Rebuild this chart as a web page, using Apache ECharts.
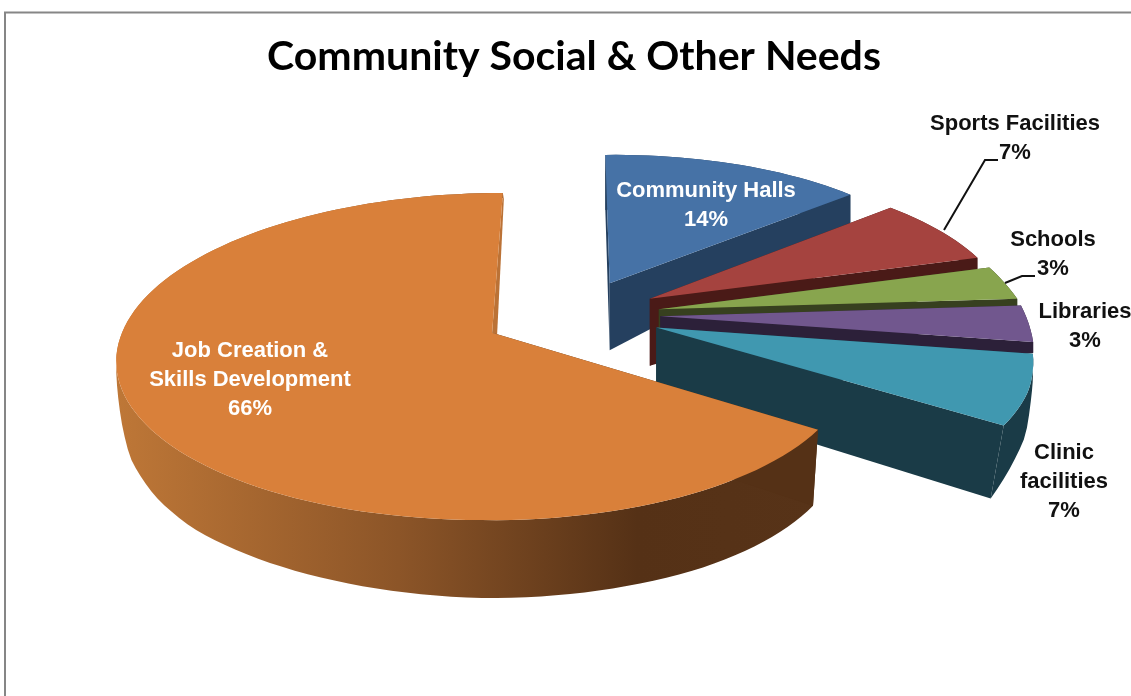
<!DOCTYPE html>
<html>
<head>
<meta charset="utf-8">
<style>html,body{margin:0;padding:0;background:#fff;overflow:hidden}#chart{width:1131px;height:696px}</style>
<script src="https://cdn.jsdelivr.net/npm/echarts@6/dist/echarts.min.js"></script>
</head>
<body>
<div id="chart"></div>
<script>
// Share of community social needs, in percent, clockwise from twelve o'clock.
const categories = ['Community Halls', 'Sports Facilities', 'Schools', 'Libraries', 'Clinic\nfacilities', 'Job Creation &\nSkills Development'];
const shares = [14, 7, 3, 3, 7, 66];

const topColors = ['#4672A6', '#A5433F', '#88A54E', '#71578E', '#4098B0', '#D9803A'];
const wallColors = ['#25405F', '#4A1A17', '#37401F', '#2C2039', '#1A3B47', '#BB7236'];
const labelColors = ['#fff', '#111', '#111', '#111', '#111', '#fff'];

// Centre of each label block on the page.
const labelX = [706, 1015, 1053, 1085, 1064, 250];
const labelY = [205, 138, 254, 326, 482, 380];

// Leader lines for the two labels that sit away from their slices.
const leaderLines = [
  [[944, 230], [985, 160], [998, 160]],
  [[1005, 283], [1022, 276], [1035, 276]]
];

// Projection of the tilted disc onto the page.
const CX = 574, CY = 315, RX = 369, RY = 155, PERSPECTIVE = 0.143, EXPLODE = 0.234;
const APEX_DEPTH = 67;
const MAIN = 5; // the large slice has its own rim corrections

// Rim corrections by clockwise angle in degrees: wall depth and lens offsets, in pixels.
const smallRim = {
  angles: [0, 50.4, 75.6, 86.4, 97.2, 104, 110, 122.4],
  depth: [55, 30, 13, 9, 11, 22, 45, 73],
  dx: [0, -10, -10, -4, -2, -2, -1, -1],
  dy: [0, -3, -5, -1, 6, 6, 6, 6],
  bottomDx: [0, 0, 0, 0, 0, -1, -3, -13]
};
const mainRim = {
  angles: [122.4, 150, 180, 195, 210, 225, 235, 245, 250, 254, 258, 270, 360],
  depth: [76, 77, 78, 75, 72, 69, 63, 52, 35, 20, 8, 5, 5],
  dx: [-16, -7, 0, 0, 0, 0, 0, 0, 0, 0, 0, 0, -4],
  dy: [4, 2, 0, 0, 0, 0, 0, 0, 0, 0, 0, 0, 0],
  bottomDx: [-5, 0, 0, 0, 0, 0, 0, 0, 0, 0, 0, 0, 0]
};

function lookup(xs, ys, v) {
  for (let i = 1; i < xs.length; i++) {
    if (v <= xs[i]) {
      const f = (v - xs[i - 1]) / (xs[i] - xs[i - 1]);
      return ys[i - 1] + f * (ys[i] - ys[i - 1]);
    }
  }
  return ys[ys.length - 1];
}

const total = shares.reduce((a, b) => a + b, 0);
const spans = [];
shares.reduce((acc, v) => { spans.push([acc, acc + v / total * 360]); return acc + v / total * 360; }, 0);

function project(X, Y) {
  const s = 1 / (1 - PERSPECTIVE * Y);
  return [CX + RX * X * s, CY + RY * Y * s];
}

function sliceGeometry(index) {
  const [a0, a1] = spans[index];
  const rim = index === MAIN ? mainRim : smallRim;
  const mid = (a0 + a1) / 2 * Math.PI / 180;
  const ax = EXPLODE * Math.sin(mid), ay = -EXPLODE * Math.cos(mid);
  const apex = project(ax, ay);
  if (index === MAIN) apex[0] -= 5;
  const rimTop = [], rimBottom = [];
  const steps = Math.max(6, Math.round((a1 - a0) / 2));
  for (let k = 0; k <= steps; k++) {
    const deg = a0 + (a1 - a0) * k / steps;
    const t = deg * Math.PI / 180;
    const p = project(ax + Math.sin(t), ay - Math.cos(t));
    p[0] += lookup(rim.angles, rim.dx, deg);
    p[1] += lookup(rim.angles, rim.dy, deg);
    rimTop.push(p);
    rimBottom.push([p[0] + lookup(rim.angles, rim.bottomDx, deg), p[1] + lookup(rim.angles, rim.depth, deg)]);
  }
  return { apex, apexBottom: [apex[0], apex[1] + APEX_DEPTH], rimTop, rimBottom };
}

function poly(points, fill) {
  return { type: 'polygon', shape: { points }, style: { fill, stroke: null } };
}

function renderSlice(params) {
  const i = params.dataIndex;
  const g = sliceGeometry(i);
  const last = g.rimTop.length - 1;
  const isMain = i === MAIN;
  const wall = isMain
    ? new echarts.graphic.LinearGradient(117, 0, 820, 0, [
        { offset: 0, color: '#BE7737' },
        { offset: 0.4, color: '#8C5528' },
        { offset: 0.74, color: '#553116' },
        { offset: 1, color: '#573318' }
      ], true)
    : wallColors[i];
  // The cut face at the start of the large slice shows only as a thin sliver.
  const startFace = isMain
    ? [g.apex, g.rimTop[last], [g.rimTop[last][0] + 1, g.rimTop[last][1] + 6], [g.apex[0] + 5, g.apex[1] + 2]]
    : [g.apex, g.rimTop[0], g.rimBottom[0], g.apexBottom];
  return {
    type: 'group',
    children: [
      poly(startFace, wallColors[i]),
      poly(g.rimTop.concat(g.rimBottom.slice().reverse()), wall),
      poly(isMain
        ? [g.apex, g.rimTop[0], g.rimBottom[0], g.apexBottom]
        : [g.apex, g.rimTop[last], g.rimBottom[last], g.apexBottom], isMain ? '#553116' : wallColors[i]),
      poly([g.apex].concat(g.rimTop), topColors[i])
    ]
  };
}

function renderLabel(params) {
  const i = params.dataIndex;
  return {
    type: 'text',
    z2: 10,
    style: {
      x: labelX[i], y: labelY[i],
      text: categories[i] + '\n' + shares[i] + '%',
      fill: labelColors[i],
      font: 'bold 22px "Liberation Sans", Arial, sans-serif',
      lineHeight: 29,
      align: 'center',
      verticalAlign: 'middle'
    }
  };
}

const chart = echarts.init(document.getElementById('chart'));
chart.setOption({
  animation: false,
  backgroundColor: '#fff',
  title: {
    text: 'Community Social & Other Needs',
    left: 569, top: 31, textAlign: 'center',
    textStyle: { fontFamily: 'Lato', fontWeight: 'bold', fontSize: 41, color: '#000' }
  },
  graphic: [
    { type: 'rect', shape: { x: 5, y: 12.5, width: 1200, height: 800 }, style: { fill: 'none', stroke: '#868686', lineWidth: 2 }, silent: true },
    ...leaderLines.map(points => ({
      type: 'polyline', shape: { points }, z: 5,
      style: { fill: 'none', stroke: '#111', lineWidth: 2 }, silent: true
    }))
  ],
  series: [
    { type: 'custom', coordinateSystem: 'none', silent: true, z: 2, data: shares, renderItem: renderSlice },
    { type: 'custom', coordinateSystem: 'none', silent: true, z: 6, data: shares, renderItem: renderLabel }
  ]
});
</script>
</body>
</html>
